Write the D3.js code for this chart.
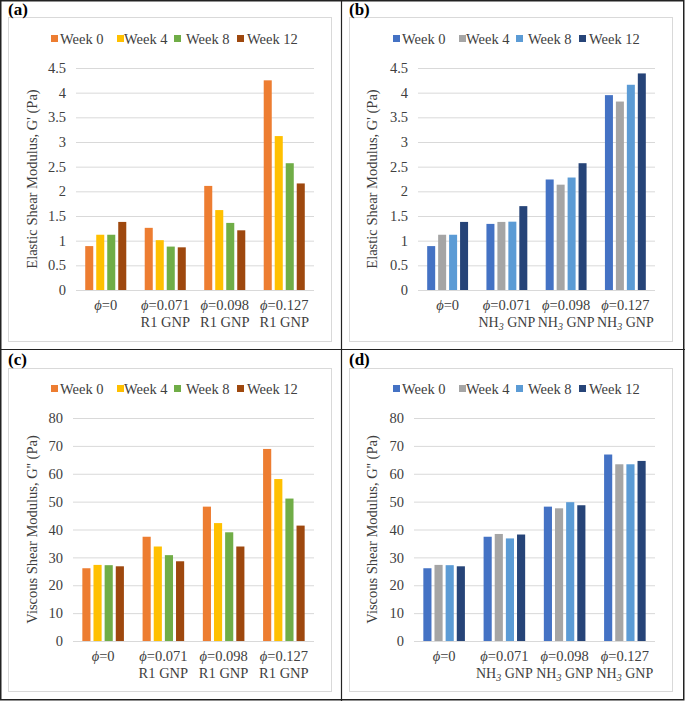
<!DOCTYPE html>
<html><head><meta charset="utf-8">
<script src="https://cdn.jsdelivr.net/npm/d3@7"></script>
<style>body{margin:0;background:#fff}svg{display:block}</style>
</head><body><svg id="c" width="685" height="701"></svg>
<script>
const weeks = ["Week 0","Week 4","Week 8","Week 12"];
const phiLabels = ["=0","=0.071","=0.098","=0.127"];
const r1Suffix = ["","R1 GNP","R1 GNP","R1 GNP"];
const nhSuffix = ["","NH","NH","NH"];
const gTicks = [0,0.5,1,1.5,2,2.5,3,3.5,4,4.5];
const vTicks = [0,10,20,30,40,50,60,70,80];
const orangeColors = ["#ED7D31","#FFC000","#70AD47","#9E480E"];
const blueColors = ["#4472C4","#A5A5A5","#5B9BD5","#264478"];
// values per week: rows = week, columns = category
const aVals = [[0.89,1.26,2.11,4.25],[1.12,1.01,1.62,3.12],[1.12,0.88,1.36,2.57],[1.38,0.865,1.21,2.16]];
const bVals = [[0.89,1.34,2.24,3.95],[1.12,1.38,2.135,3.82],[1.12,1.385,2.28,4.16],[1.38,1.70,2.57,4.39]];
const cVals = [[26.1,37.4,48.2,68.9],[27.3,33.9,42.3,58.1],[27.2,30.8,39.0,51.1],[26.8,28.6,33.9,41.4]];
const dVals = [[26.1,37.4,48.2,66.9],[27.3,38.4,47.6,63.4],[27.2,36.8,49.8,63.4],[26.8,38.2,48.7,64.6]];

const FONT = "'Liberation Serif', 'DejaVu Serif', 'Times New Roman', serif";
const svg = d3.select("#c");
const textColor = "#404040";
const FS = 14.5;

function panel(o){
  const g = svg.append("g").attr("transform",`translate(${o.ox},${o.oy})`);
  g.append("rect").attr("x",o.bx).attr("y",o.by).attr("width",o.bw).attr("height",o.bh)
    .attr("fill","#fff").attr("stroke","#d9d9d9").attr("stroke-width",1);
  g.append("text").attr("x",o.lx).attr("y",15).attr("font-weight","bold").attr("font-size",17).attr("fill","#000").text(o.label);
  const y = d3.scaleLinear().domain([0,d3.max(o.ticks)]).range([o.y0,o.y1]);
  const x = d3.scaleBand().domain(d3.range(4)).range([o.xl,o.xr]).paddingInner(0.31).paddingOuter(0.155);
  const xi = d3.scaleBand().domain(d3.range(4)).range([0,x.bandwidth()]).paddingInner(0.27);
  const ax = g.append("g").attr("transform",`translate(${o.xl},0)`)
    .call(d3.axisLeft(y).tickValues(o.ticks).tickSize(-(o.xr-o.xl)).tickPadding(10).tickFormat(d=>String(d)));
  ax.select(".domain").remove();
  ax.selectAll(".tick line").attr("stroke","#d9d9d9").attr("stroke-width",1);
  ax.selectAll(".tick text").attr("font-size",FS).attr("fill",textColor);
  o.vals.forEach((row,wi)=>{
    g.append("g").selectAll("rect").data(row).join("rect")
      .attr("x",(d,i)=>x(i)+xi(wi)).attr("width",xi.bandwidth())
      .attr("y",d=>y(d)).attr("height",d=>y(0)-y(d)).attr("fill",o.colors[wi]);
  });
  const xl = g.append("g");
  phiLabels.forEach((p,i)=>{
    const cx = x(i)+x.bandwidth()/2;
    const t = xl.append("text").attr("x",cx).attr("y",o.y0+20).attr("text-anchor","middle").attr("font-size",FS).attr("fill",textColor);
    t.append("tspan").attr("font-style","italic").text("\u03D5");
    t.append("tspan").text(p);
    if(o.suffix[i]){
      const t2 = xl.append("text").attr("x",cx).attr("y",o.y0+37).attr("text-anchor","middle").attr("font-size",14).attr("fill",textColor);
      if(o.suffix[i]==="NH"){
        t2.append("tspan").text("NH");
        t2.append("tspan").attr("font-style","italic").attr("font-size",10).attr("dy",3).text("3");
        t2.append("tspan").attr("dy",-3).text(" GNP");
      } else t2.attr("font-size",FS).text(o.suffix[i]);
    }
  });
  g.append("text").attr("transform",`translate(${o.tx},${(o.y0+o.y1)/2}) rotate(-90)`)
    .attr("text-anchor","middle").attr("font-size",FS).attr("fill",textColor).text(o.title);
  const lg = g.append("g");
  const lx = [51,117,174,237], tx=[60,124,186,247];
  weeks.forEach((w,i)=>{
    lg.append("rect").attr("x",lx[i]).attr("y",o.legY-4).attr("width",7).attr("height",7).attr("fill",o.colors[i]);
    lg.append("text").attr("x",tx[i]).attr("y",o.legY+4.5).attr("font-size",FS).attr("fill",textColor).text(w);
  });
}

panel({ox:0,oy:0,bx:8.5,by:17.5,bw:323,bh:324,lx:8,label:"(a)",ticks:gTicks,y0:290,y1:68,xl:76,xr:314,
  vals:aVals,colors:orangeColors,suffix:r1Suffix,tx:37,title:"Elastic Shear Modulus, G' (Pa)",legY:39});
panel({ox:342,oy:0,bx:7.5,by:17.5,bw:323,bh:324,lx:7,label:"(b)",ticks:gTicks,y0:290,y1:68,xl:76,xr:313,
  vals:bVals,colors:blueColors,suffix:nhSuffix,tx:35,title:"Elastic Shear Modulus, G' (Pa)",legY:39});
panel({ox:0,oy:350,bx:8.5,by:18.5,bw:323,bh:323,lx:8,label:"(c)",ticks:vTicks,y0:291,y1:68,xl:73,xr:314,
  vals:cVals,colors:orangeColors,suffix:r1Suffix,tx:37,title:"Viscous Shear Modulus, G'' (Pa)",legY:39});
panel({ox:342,oy:350,bx:7.5,by:18.5,bw:323,bh:323,lx:7,label:"(d)",ticks:vTicks,y0:291,y1:68,xl:72,xr:313,
  vals:dVals,colors:blueColors,suffix:nhSuffix,tx:35,title:"Viscous Shear Modulus, G'' (Pa)",legY:39});

svg.selectAll("text").attr("font-family",null).style("font-family",FONT);
svg.selectAll("g").attr("font-family",null);

svg.append("rect").attr("x",0.75).attr("y",0.75).attr("width",683).attr("height",699).attr("fill","none").attr("stroke","#222").attr("stroke-width",1.5);
svg.append("line").attr("x1",341.5).attr("x2",341.5).attr("y1",0).attr("y2",701).attr("stroke","#222").attr("stroke-width",1.2);
svg.append("line").attr("x1",0).attr("x2",685).attr("y1",349.5).attr("y2",349.5).attr("stroke","#222").attr("stroke-width",1.2);
</script></body></html>
